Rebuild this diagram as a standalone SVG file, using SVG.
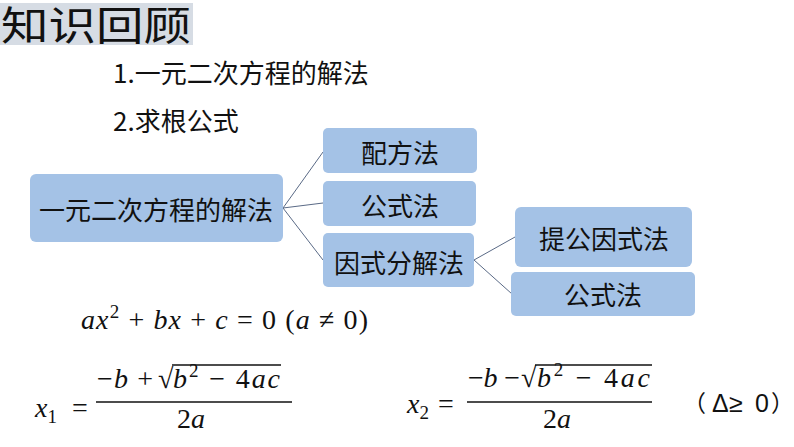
<svg xmlns="http://www.w3.org/2000/svg" width="794" height="447" viewBox="0 0 794 447">
<style>
.cjk{font-family:"Noto Sans CJK SC","Liberation Sans",sans-serif;fill:#111;}
.box{fill:#A4C2E6;}
.lbl{font-family:"Noto Sans CJK SC","Liberation Sans",sans-serif;font-size:26px;fill:#111;text-anchor:middle;dominant-baseline:central;}
.conn{stroke:#5A6A86;stroke-width:1;fill:none;}
.m{font-family:"Liberation Serif","Times New Roman","DejaVu Serif",serif;font-size:28px;fill:#111;}
.s{font-family:"Liberation Sans",Arial,sans-serif;font-size:25px;fill:#111;}
.i{font-style:italic;}
.sup{font-size:19px;}
.bar{stroke:#111;stroke-width:1.3;}
</style>
<rect width="794" height="447" fill="#fff"/>
<g id="title">
<rect x="0" y="3" width="193" height="42" fill="#D6DCE4"/>
<text class="cjk" x="1" y="40" font-size="40" textLength="190" lengthAdjust="spacingAndGlyphs">知识回顾</text>
</g>
<g id="points">
<text class="cjk" x="113" y="83" font-size="26">1.一元二次方程的解法</text>
<text class="cjk" x="113" y="131" font-size="26">2.求根公式</text>
</g>
<g id="connectors">
<line class="conn" x1="283" y1="208" x2="323" y2="152"/>
<line class="conn" x1="283" y1="208" x2="323" y2="203"/>
<line class="conn" x1="283" y1="208" x2="323" y2="260"/>
<line class="conn" x1="474" y1="260" x2="515" y2="237"/>
<line class="conn" x1="474" y1="260" x2="512" y2="294"/>
</g>
<g id="n-main"><rect class="box" x="30" y="174" width="253" height="68" rx="6"/><text class="lbl" x="156" y="208">一元二次方程的解法</text></g>
<g id="n-peifang"><rect class="box" x="323" y="128" width="154" height="45" rx="5"/><text class="lbl" x="400" y="151">配方法</text></g>
<g id="n-gongshi"><rect class="box" x="323" y="181" width="153" height="45" rx="5"/><text class="lbl" x="400" y="204">公式法</text></g>
<g id="n-yinshi"><rect class="box" x="323" y="233" width="151" height="54" rx="5"/><text class="lbl" x="399" y="261">因式分解法</text></g>
<g id="n-tigong"><rect class="box" x="515" y="207" width="177" height="60" rx="6"/><text class="lbl" x="604" y="237">提公因式法</text></g>
<g id="n-gongshi2"><rect class="box" x="511" y="272" width="184" height="44" rx="5"/><text class="lbl" x="603" y="293">公式法</text></g>
<g id="equation">
<text class="m" x="81" y="329" textLength="287" lengthAdjust="spacing"><tspan class="i">ax</tspan><tspan class="sup" dy="-11">2</tspan><tspan dy="11"> + </tspan><tspan class="i">bx</tspan><tspan> + </tspan><tspan class="i">c</tspan><tspan> = 0  (</tspan><tspan class="i">a</tspan><tspan> ≠ 0)</tspan></text>
</g>
<g id="formula1">
<text class="m" x="35" y="417"><tspan class="i">x</tspan><tspan class="sup" dy="6">1</tspan></text>
<text class="m" x="72" y="417">=</text>
<text class="m" x="97" y="388" textLength="56" lengthAdjust="spacing">−<tspan class="i">b</tspan> +</text>
<text class="m" x="158" y="388">√</text>
<line class="bar" x1="172" y1="365" x2="281" y2="365"/>
<text class="m" x="173" y="388" textLength="107" lengthAdjust="spacing"><tspan class="i">b</tspan><tspan class="sup" dy="-11">2</tspan><tspan dy="11"> − 4</tspan><tspan class="i">ac</tspan></text>
<line class="bar" x1="96" y1="402" x2="292" y2="402"/>
<text class="m" x="177" y="428">2<tspan class="i">a</tspan></text>
</g>
<g id="formula2">
<text class="m" x="407" y="413"><tspan class="i">x</tspan><tspan class="sup" dy="6">2</tspan></text>
<text class="m" x="438" y="413">=</text>
<text class="m" x="468" y="387" textLength="52" lengthAdjust="spacing">−<tspan class="i">b</tspan> −</text>
<text class="m" x="521" y="387">√</text>
<line class="bar" x1="535" y1="365" x2="652" y2="365"/>
<text class="m" x="537" y="387" textLength="113" lengthAdjust="spacing"><tspan class="i">b</tspan><tspan class="sup" dy="-11">2</tspan><tspan dy="11"> − 4</tspan><tspan class="i">ac</tspan></text>
<line class="bar" x1="467" y1="402" x2="652" y2="402"/>
<text class="m" x="543" y="428">2<tspan class="i">a</tspan></text>
<text class="cjk" x="683" y="412" font-size="23">（</text>
<text class="s" y="412"><tspan x="712">Δ</tspan><tspan x="729">≥</tspan><tspan x="755">0</tspan></text>
<text class="cjk" x="771" y="412" font-size="23">）</text>
</g>
</svg>
